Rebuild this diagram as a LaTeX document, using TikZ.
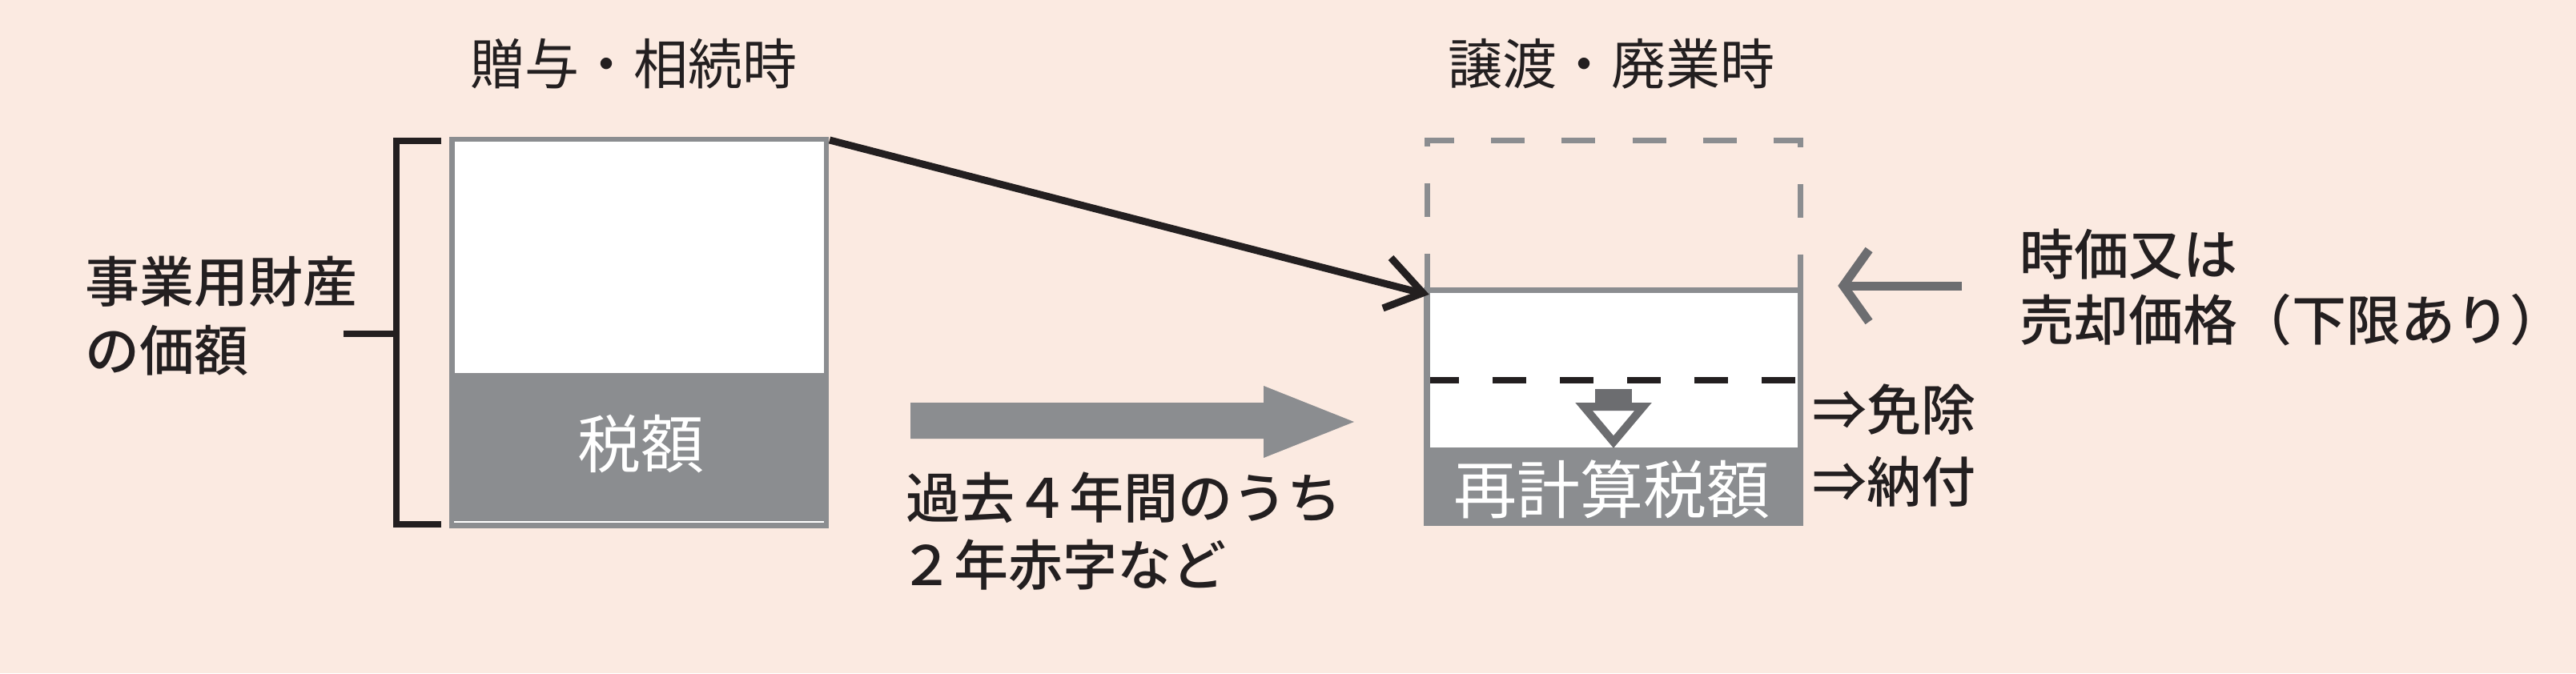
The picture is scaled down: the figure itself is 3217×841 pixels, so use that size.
\documentclass[tikz,border=0pt]{standalone}
\usepackage{fontspec}
\setmainfont{Noto Sans CJK JP}
\newfontfamily\medfont{Noto Sans CJK JP}[UprightFont={* Medium}]
\definecolor{bg}{RGB}{251,234,225}
\definecolor{boxgray}{RGB}{139,141,144}
\definecolor{darkgray}{RGB}{108,109,112}
\definecolor{ink}{RGB}{35,31,32}
\begin{document}
\begin{tikzpicture}[x=1pt,y=-1pt,
  txt/.style={inner sep=0pt, text=ink, font=\fontsize{68}{84}\selectfont},
  mtxt/.style={inner sep=0pt, text=ink, font=\medfont\fontsize{68}{84}\selectfont},
  wtxt/.style={inner sep=0pt, text=white, font=\fontsize{79}{90}\selectfont},
  bracketline/.style={draw=ink, line width=8pt, line join=miter},
  blackarrow/.style={draw=ink, line width=9pt, line join=miter},
  grayarrow/.style={draw=darkgray, line width=11pt, line join=miter},
  grayframe/.style={draw=boxgray, line width=7pt, line join=miter, dash pattern=on 42pt off 46.1pt},
  levelline/.style={draw=ink, line width=8pt, dash pattern=on 42pt off 42pt, dash phase=6pt},
]
\fill[bg] (0,0) rectangle (3217,841);
\useasboundingbox (0,0) rectangle (3217,841);

% ---------- left box (gift / inheritance) ----------
\coordinate (lboxNW) at (561,171);
\coordinate (lboxSE) at (1035,660);
\fill[boxgray] (lboxNW) rectangle (lboxSE);
\fill[white] (568,177) rectangle (1029,466);
\draw[white, line width=1.5pt] (567,652) -- (1029,652);
\node[wtxt] (tax1) at (800,555) {税額};
\coordinate (lboxNE) at (1036,175);

% bracket
\coordinate (brTop) at (551,176);
\coordinate (brBot) at (551,655);
\coordinate (brTick) at (429,417);
\draw[bracketline] (brTop) -- (495,176) -- (495,655) -- (brBot);
\draw[bracketline] (brTick) -- (495,417);

% labels
\node[txt] (title1) at (791,80) {贈与・相続時};
\node[mtxt, anchor=west, align=left, font=\medfont\fontsize{68}{86}\selectfont] (value) at (106,395) {事業用財産\\の価額};

% ---------- right box (transfer / closure) ----------
\coordinate (rboxNW) at (1778,359);
\coordinate (rboxSE) at (2252,657);
\draw[grayframe] (1782,359) -- (1782,175) -- (2248,175) -- (2248,359);
\fill[boxgray] (rboxNW) rectangle (rboxSE);
\fill[white] (1786,366) rectangle (2245,559);
\coordinate (rboxTip) at (1777,366);
\draw[levelline] (1786,475) -- (2245,475);
% down arrow
\fill[darkgray] (1992,486) rectangle (2038,506);
\draw[draw=darkgray, fill=white, line width=10pt, line join=miter] (1978,508) -- (2052,508) -- (2015,552) -- cycle;
\node[wtxt] (tax2) at (2013,611) {再計算税額};

\node[txt] (title2) at (2012,80) {譲渡・廃業時};
\node[mtxt, anchor=west] (exempt) at (2263,512) {⇒免除};
\node[mtxt, anchor=west] (pay) at (2263,602) {⇒納付};

% market value arrow
\coordinate (mvStart) at (2450,357);
\coordinate (mvTip) at (2302,357);
\draw[grayarrow] (mvStart) -- (2308,357);
\draw[grayarrow] (mvTip) ++(32,-45) -- (mvTip) -- ++(32,45);
\node[mtxt, anchor=west, align=left, font=\medfont\fontsize{68}{82}\selectfont] (mv) at (2522,359) {時価又は\\売却価格（下限あり）};

% ---------- connectors ----------
\draw[blackarrow] (lboxNE) -- (1771,365);
\draw[blackarrow] (rboxTip) ++(-40,-44) -- (rboxTip) -- ++(-50,19);

% big gray arrow
\fill[boxgray] (1137,503) -- (1578,503) -- (1578,482) -- (1691,527) -- (1578,572) -- (1578,548) -- (1137,548) -- cycle;
\node[mtxt, anchor=west, align=left, font=\medfont\fontsize{68}{84}\selectfont] (deficit) at (1131,664) {過去４年間のうち\\\kern-8pt２年赤字など};
\end{tikzpicture}
\end{document}
